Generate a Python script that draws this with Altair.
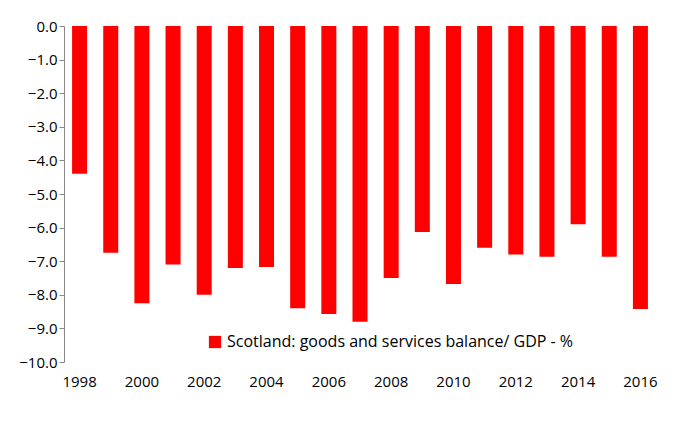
import altair as alt
import pandas as pd

years = list(range(1998, 2017))
balance = [-4.4, -6.75, -8.25, -7.1, -8.0, -7.2, -7.17, -8.4, -8.57, -8.8,
           -7.5, -6.13, -7.68, -6.6, -6.8, -6.87, -5.9, -6.87, -8.42]
series = "Scotland: goods and services balance/ GDP - %"

df = pd.DataFrame({"year": years, "value": balance, "series": series})

chart = alt.Chart(df).mark_bar(color="#ff0000", size=15).encode(
    x=alt.X("year:O", title=None,
            axis=alt.Axis(labelAngle=0, labelExpr="datum.value % 2 == 0 ? datum.label : ''",
                          ticks=False, domain=False, labelPadding=12)),
    y=alt.Y("value:Q", title=None,
            scale=alt.Scale(domain=[-10, 0]),
            axis=alt.Axis(values=[0, -1, -2, -3, -4, -5, -6, -7, -8, -9, -10], format=".1f",
                          grid=False, domainColor="#888", tickColor="#888", tickSize=5)),
    color=alt.Color("series:N", scale=alt.Scale(range=["#ff0000"]),
                    legend=alt.Legend(title=None, orient="none", legendX=143, legendY=308,
                                      symbolType="square", symbolSize=150,
                                      labelFontSize=16, labelLimit=500)),
).properties(width=592, height=336, padding={"left": 10, "top": 11, "right": 10, "bottom": 5})

chart = chart.configure_view(stroke=None).configure_axis(
    labelFont="Open Sans", labelFontSize=15, labelColor="#000"
).configure_legend(labelFont="Open Sans", labelColor="#000")

chart.save("out.html", embed_options={"renderer": "svg", "actions": False})
